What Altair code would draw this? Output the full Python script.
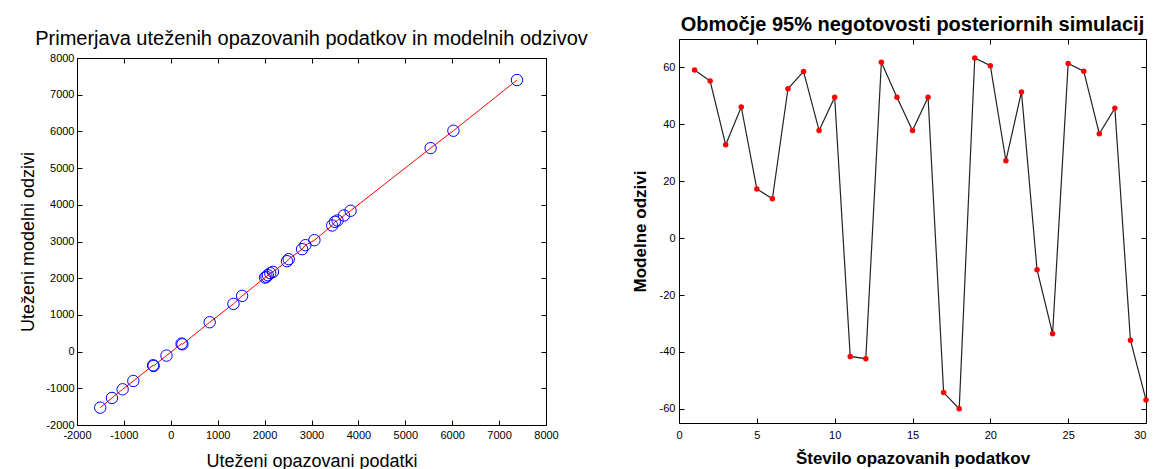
import altair as alt
import pandas as pd

# Left panel: weighted observed data vs weighted model responses
obs_w = [-1505, -1255, -1027, -799, -378, -366, -92, 230, 248, 829, 1336, 1521,
         2010, 2040, 2070, 2120, 2178, 2478, 2514, 2799, 2870, 3062, 3441, 3499,
         3555, 3692, 3833, 5540, 6026, 7381]
mod_w = [-1527, -1263, -1027, -800, -373, -391, -109, 218, 200, 800, 1300, 1519,
         2018, 2040, 2082, 2137, 2173, 2463, 2518, 2791, 2900, 3036, 3436, 3537,
         3573, 3709, 3837, 5545, 6018, 7399]

# Right panel: model responses per observation
idx = list(range(1, 31))
resp = [59.1, 55.2, 32.8, 46.1, 17.3, 13.8, 52.5, 58.6, 37.8, 49.5,
        -41.6, -42.4, 61.8, 49.5, 37.8, 49.5, -54.3, -60.0, 63.3, 60.6,
        27.2, 51.4, -11.1, -33.6, 61.4, 58.7, 36.7, 45.7, -35.9, -56.9]

left_ticks = list(range(-2000, 8001, 1000))
right_xticks = list(range(0, 31, 5))
right_xlast = [30]
right_yticks = list(range(-60, 61, 20))

FONT = "Liberation Sans"
LEFT_H = 386      # left view height (box spans the lower 367 px)
LEFT_GAP = 19     # empty band above the left box

df_l = pd.DataFrame({"x": obs_w, "y": mod_w})
df_r = pd.DataFrame({"i": idx, "v": resp})


def ax_main(values, title, size, bold, pad, lpad, expr="'' + datum.value"):
    return alt.Axis(values=values, labelExpr=expr, grid=False, domain=False,
                    tickSize=5, offset=-5, tickColor="black", tickWidth=1,
                    labelPadding=lpad, labelFont=FONT, labelFontSize=11,
                    labelColor="black", title=title, titleFont=FONT,
                    titleFontSize=size, titleFontWeight="bold" if bold else "normal",
                    titleColor="black", titlePadding=pad, labelFlush=False,
                    labelOverlap=False)


def ax_ticks(values, orient, off=-5):
    return alt.Axis(values=values, orient=orient, grid=False, domain=False,
                    labels=False, tickSize=5, offset=off, tickColor="black",
                    tickWidth=1, title=None)


def ax_dom(orient, off=0):
    return alt.Axis(orient=orient, grid=False, domain=True, domainColor="black",
                    domainWidth=1, ticks=False, labels=False, offset=off, title=None)


xl = alt.Scale(domain=[-2000, 8000], nice=False, zero=False)
yl = alt.Scale(domain=[-2000, 8000], nice=False, zero=False, range=[LEFT_H, LEFT_GAP])

pts_l = alt.Chart(df_l).mark_point(shape="circle", color="#0000ff", filled=False,
                                  size=130, strokeWidth=1, opacity=1).encode(
    x=alt.X("x:Q", scale=xl, axis=ax_main(left_ticks, "Uteženi opazovani podatki", 18, False, 12, 4)),
    y=alt.Y("y:Q", scale=yl, axis=ax_main(left_ticks, "Uteženi modelni odzivi", 18, False, 8, 3)),
)
line_l = alt.Chart(df_l).mark_line(color="red", strokeWidth=1).encode(
    x=alt.X("x:Q", scale=xl, axis=ax_ticks(left_ticks, "top", -5 - LEFT_GAP)),
    y=alt.Y("y:Q", scale=yl, axis=ax_ticks(left_ticks, "right")),
    order="x:Q",
)
frame_a = alt.Chart(df_l).mark_point(opacity=0).encode(
    x=alt.X("x:Q", scale=xl, axis=ax_dom("bottom")),
    y=alt.Y("y:Q", scale=yl, axis=ax_dom("left")),
)
frame_b = alt.Chart(df_l).mark_point(opacity=0).encode(
    x=alt.X("x:Q", scale=xl, axis=ax_dom("top", -LEFT_GAP)),
    y=alt.Y("y:Q", scale=yl, axis=ax_dom("right")),
)
left = alt.layer(frame_a, frame_b, line_l, pts_l).resolve_axis(
    x="independent", y="independent"
).properties(
    width=469, height=LEFT_H,
    view=alt.ViewConfig(stroke="transparent"),
    title=alt.TitleParams("Primerjava uteženih opazovanih podatkov in modelnih odzivov",
                          font=FONT, fontSize=20, fontWeight="normal", color="black",
                          anchor="middle", offset=4, dy=14),
)

xr = alt.Scale(domain=[0, 30], nice=False, zero=False)
yr = alt.Scale(domain=[-65, 70], nice=False, zero=False)

line_r = alt.Chart(df_r).mark_line(color="#222222", strokeWidth=1.2).encode(
    x=alt.X("i:Q", scale=xr, axis=ax_main(right_xticks, "Število opazovanih podatkov", 17, True, 10, 6,
                                           "datum.value == 30 ? '' : '' + datum.value")),
    y=alt.Y("v:Q", scale=yr, axis=ax_main(right_yticks, "Modelne odzivi", 17, True, 10, 4)),
)
pts_r = alt.Chart(df_r).mark_point(shape="circle", color="red", filled=True,
                                  size=30, opacity=1).encode(
    x=alt.X("i:Q", scale=xr, axis=ax_ticks(right_xticks, "top")),
    y=alt.Y("v:Q", scale=yr, axis=ax_ticks(right_yticks, "right")),
)
last_r = alt.Chart(df_r).mark_point(opacity=0).encode(
    x=alt.X("i:Q", scale=xr, axis=alt.Axis(
        values=right_xlast, orient="bottom", grid=False, domain=False,
        tickSize=5, offset=-5, tickOpacity=0, labelPadding=6, labelFont=FONT,
        labelFontSize=11, labelColor="black", labelFlush=True, title=None)),
    y=alt.Y("v:Q", scale=yr, axis=None),
)
right = alt.layer(line_r, pts_r, last_r).resolve_axis(x="independent", y="independent").properties(
    width=467, height=384,
    view=alt.ViewConfig(stroke="black", strokeWidth=1),
    title=alt.TitleParams("Območje 95% negotovosti posteriornih simulacij",
                          font=FONT, fontSize=20, fontWeight="bold", color="black",
                          anchor="middle", offset=4),
)

chart = alt.concat(left, right, columns=2, spacing=41).properties(
    padding={"left": 11, "top": 6, "right": 0, "bottom": 0}
).configure(background="white")

chart.save("out.html", embed_options={"renderer": "svg", "actions": False})
